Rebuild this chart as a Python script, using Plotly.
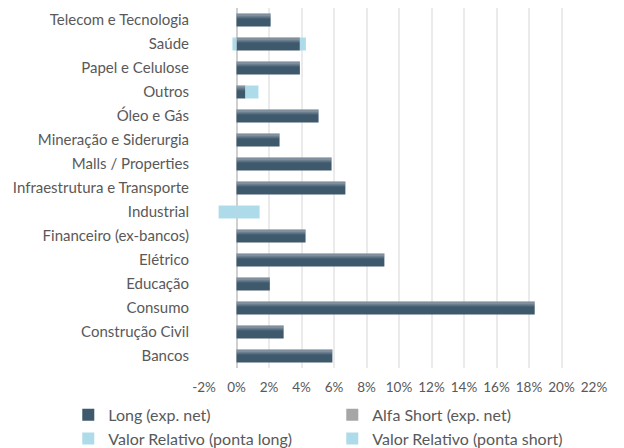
import plotly.graph_objects as go

categories = ["Telecom e Tecnologia", "Saúde", "Papel e Celulose", "Outros", "Óleo e Gás",
              "Mineração e Siderurgia", "Malls / Properties", "Infraestrutura e Transporte",
              "Industrial", "Financeiro (ex-bancos)", "Elétrico", "Educação", "Consumo",
              "Construção Civil", "Bancos"]
long_exp = [2.1, 3.9, 3.9, 0.55, 5.05, 2.65, 5.85, 6.7, 0, 4.25, 9.1, 2.05, 18.35, 2.9, 5.9]
alfa_short = [0, 0, 0, 0, 0, 0, 0, 0, 0, 0, 0, 0, 0, 0, 0]
vr_long = [0, 0.37, 0, 0.8, 0, 0, 0, 0, 1.42, 0, 0, 0, 0, 0, 0]
vr_short = [0, -0.25, 0, 0, 0, 0, 0, 0, -1.1, 0, 0, 0, 0, 0, 0]
tick_vals = [-2, 0, 2, 4, 6, 8, 10, 12, 14, 16, 18, 20, 22]
tick_text = ["-2%", "0%", "2%", "4%", "6%", "8%", "10%", "12%", "14%", "16%", "18%", "20%", "22%"]

DARK = "#3e586c"
LIGHT = "#aedbea"
GREY = "#a6a6a6"
SHEEN_ALPHAS = [0.42, 0.33, 0.24, 0.16, 0.08]

fig = go.Figure()
fig.add_trace(go.Bar(y=categories, x=long_exp, orientation="h", name="Long (exp. net)",
                     marker=dict(color=DARK, line=dict(width=0))))
fig.add_trace(go.Bar(y=categories, x=alfa_short, orientation="h", name="Alfa Short (exp. net)",
                     marker=dict(color=GREY, line=dict(width=0))))
fig.add_trace(go.Bar(y=categories, x=vr_long, orientation="h", name="Valor Relativo (ponta long)",
                     marker=dict(color=LIGHT, line=dict(width=0))))
fig.add_trace(go.Bar(y=categories, x=vr_short, orientation="h", name="Valor Relativo (ponta short)",
                     marker=dict(color=LIGHT, line=dict(width=0))))

# gradient-like sheen on the upper part of the long bars, each strip on its own hidden axis
strip = 0.042
for k, a in enumerate(SHEEN_ALPHAS):
    ax = "y%d" % (k + 2)
    fig.add_trace(go.Bar(y=categories, x=long_exp, orientation="h", yaxis=ax, showlegend=False,
                         width=strip + 0.004, offset=-0.27 + k * strip, hoverinfo="skip",
                         marker=dict(color="rgba(255,255,255,%.2f)" % a, line=dict(width=0))))
    fig.update_layout(**{"yaxis%d" % (k + 2): dict(overlaying="y", matches="y", visible=False)})

fig.update_layout(
    width=616, height=448,
    barmode="relative", bargap=0.46,
    plot_bgcolor="white", paper_bgcolor="white",
    margin=dict(l=196, r=30, t=0, b=88),
    font=dict(family="Lato, 'Open Sans', sans-serif", color="#595959", size=13),
    xaxis=dict(range=[-2, 22], tickvals=tick_vals, ticktext=tick_text,
               showgrid=True, gridcolor="#ebebeb", gridwidth=1.5,
               zeroline=True, zerolinecolor="#d0d0d0", zerolinewidth=1.5,
               showline=False, tickfont=dict(size=13.5), fixedrange=True,
               ticks="outside", ticklen=7, tickcolor="rgba(0,0,0,0)"),
    yaxis=dict(autorange="reversed", showgrid=False, showline=False,
               ticks="outside", ticklen=11, tickcolor="rgba(0,0,0,0)",
               tickfont=dict(size=15)),
    legend=dict(orientation="h", x=-0.348, xanchor="left", y=-0.083, yanchor="top",
                font=dict(size=16, color="#595959"), itemwidth=30,
                entrywidth=219, entrywidthmode="pixels", tracegroupgap=0,
                traceorder="normal", borderwidth=0),
    showlegend=True,
)

fig.write_html("out.html")
